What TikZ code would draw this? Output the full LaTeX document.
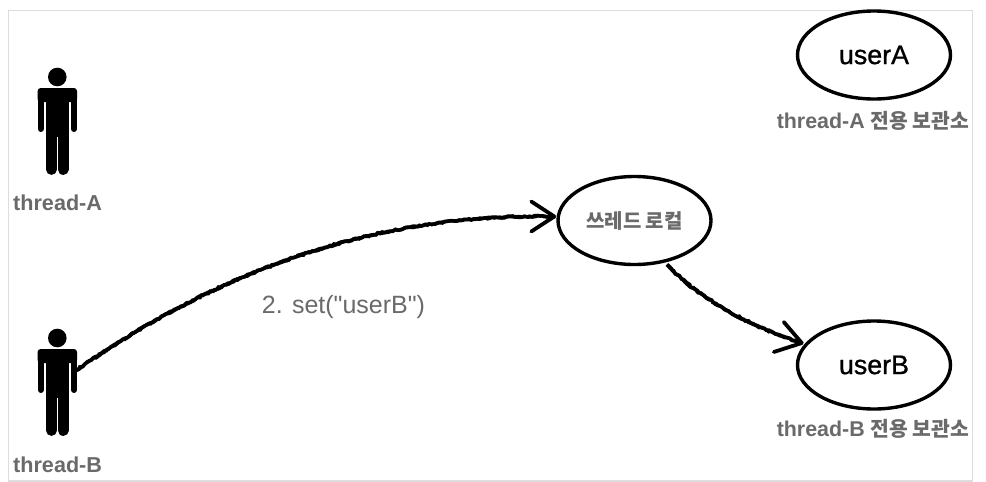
\documentclass[tikz,border=0pt]{standalone}
\usepackage{fontspec}
\setmainfont{Liberation Sans}
\newfontfamily\plainf{Liberation Sans}
\newfontfamily\medf{Liberation Sans}[FakeBold=1]
\newfontfamily\cjk{Noto Sans CJK KR}
\usetikzlibrary{shapes.geometric,decorations.pathmorphing}
\definecolor{lbl}{HTML}{6A6A6A}
\definecolor{frm}{HTML}{DDDDDD}
\tikzset{
  x=1pt,y=-1pt,
  storeshape/.style={ellipse,draw=black,line width=3.4pt,fill=white,inner sep=0pt,minimum width=153pt,minimum height=88pt},
  personbox/.style={inner sep=0pt,minimum width=40pt,minimum height=107pt},
  roughline/.style={black,line width=3.5pt,decorate,decoration={random steps,segment length=2.5pt,amplitude=.85pt}},
  barbline/.style={black,line width=3.8pt,line cap=round},
  thname/.style={font=\bfseries\fontsize{21.6pt}{24pt}\selectfont,text=lbl,inner sep=0pt,anchor=west},
  caplabel/.style={font=\bfseries\fontsize{21.4pt}{24pt}\selectfont,text=lbl,inner sep=0pt},
  vallabel/.style={font=\medf\fontsize{26.8pt}{30pt}\selectfont,text=black,inner sep=0pt},
  person/.pic={
    \fill[black] (0,0) circle (9.3);
    \fill[black,rounded corners=3pt] (-19.7,25) -- (-19.7,11) -- (19.7,11) -- (19.7,25) -- cycle;
    \fill[black] (-11.3,18) rectangle (11.2,60);
    \draw[black,line width=6pt,line cap=round] (-16.7,16) -- (-16.7,52);
    \draw[black,line width=6pt,line cap=round] (16.7,16) -- (16.7,52);
    \draw[black,line width=10.8pt,line cap=round] (-5.9,50) -- (-5.9,92.5);
    \draw[black,line width=10.8pt,line cap=round] (5.8,50) -- (5.8,92.5);
  }
}
\begin{document}
\begin{tikzpicture}
\pgfmathsetseed{11}
\useasboundingbox (0,0) rectangle (986,482);
\fill[white] (0,0) rectangle (986,482);
\draw[frm,line width=1.6pt] (8.5,10.5) rectangle (972.5,481);

\pic at (57.3,77) {person};
\pic at (57.3,338) {person};
\node[personbox] (personA) at (57.3,121) {};
\node[personbox] (personB) at (57.3,382) {};

\node[thname] (labelA) at (13,202.5) {thread-A};
\node[thname] (labelB) at (13,465) {thread-B};

\node[storeshape] (local) at (634.5,220.5) {};
\node[font=\cjk\bfseries\fontsize{20pt}{22pt}\selectfont,text=lbl,inner sep=0pt] (localtext) at (local.center) {쓰레드 로컬};

\node[storeshape] (userA) at (874,55) {};
\node[vallabel] (userAtext) at (userA.center) {userA};
\node[caplabel] (capA) at (873,121) {thread-A {\cjk\fontsize{20.4pt}{24pt}\selectfont 전용 보관소}};

\node[storeshape] (userB) at (874,365) {};
\node[vallabel] (userBtext) at (userB.center) {userB};
\node[caplabel] (capB) at (873,428.5) {thread-B {\cjk\fontsize{20.4pt}{24pt}\selectfont 전용 보관소}};

\node[font=\plainf\fontsize{25pt}{28pt}\selectfont,text=lbl,inner sep=0pt] (setlabel) at (343.5,307) {2. set("userB")};

\coordinate (startB) at ([xshift=-5pt,yshift=9pt]personB.east);
\coordinate (tipL) at ([xshift=-2pt,yshift=4pt]local.west);
\coordinate (startU) at ([xshift=32.5pt,yshift=-44pt]local.center);
\coordinate (tipU) at ([xshift=6pt,yshift=22pt]userB.west);

\foreach \pass in {1,2}{
  \draw[roughline] (startB) .. controls (230,262) and (390,213) .. (tipL);
  \draw[roughline] (startU) .. controls (695,295) and (745,325) .. (tipU);
}

\draw[barbline] (tipL) -- ++(-23,-15);
\draw[barbline] (tipL) -- ++(-23,15);
\draw[barbline] (tipU) -- ++(-18,-21);
\draw[barbline] (tipU) -- ++(-28,9);
\end{tikzpicture}
\end{document}
